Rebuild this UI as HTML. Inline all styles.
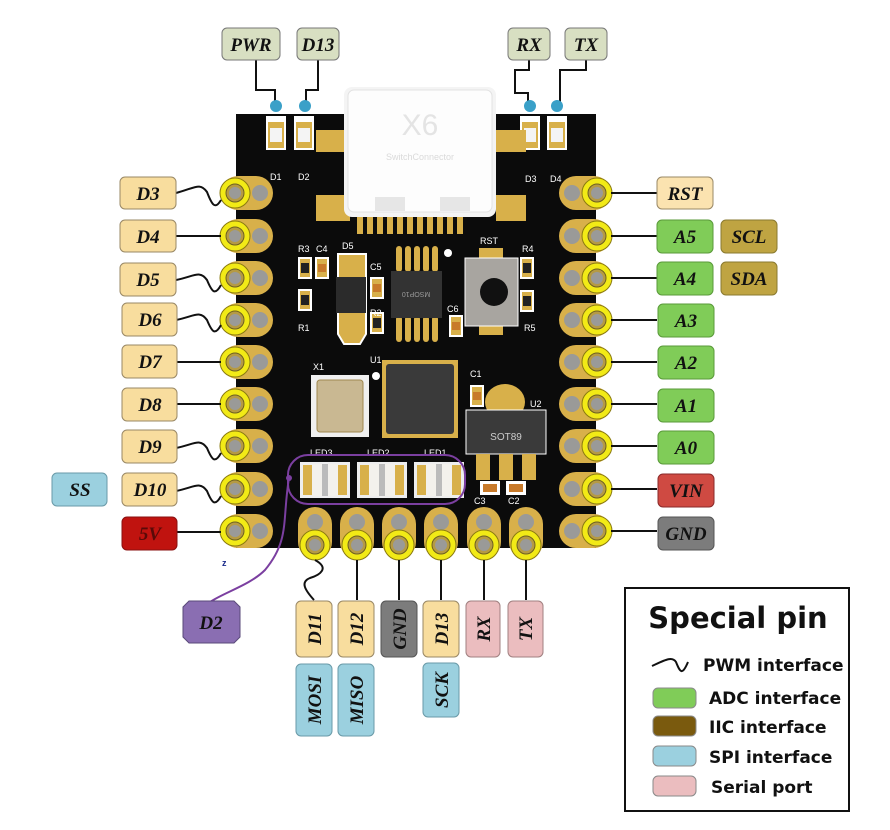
<!DOCTYPE html>
<html><head><meta charset="utf-8"><style>
html,body{margin:0;padding:0;background:#fff;}
svg{display:block}
.lb{font-family:"Liberation Serif",serif;font-weight:bold;font-style:italic;font-size:19px;fill:#111;}
.lg{font-family:"DejaVu Sans","Liberation Sans",sans-serif;font-weight:bold;fill:#111;}
.sk{font-family:"Liberation Sans",sans-serif;font-size:9px;fill:#fff;}
</style></head><body>
<svg width="890" height="830" viewBox="0 0 890 830" xmlns="http://www.w3.org/2000/svg">
<defs>
<g id="lp">
 <rect x="-14" y="-17" width="52" height="34" rx="17" fill="#d8b04a"/>
 <circle cx="25" cy="0" r="8" fill="#9a9a98"/>
 <circle cx="0" cy="0" r="15" fill="#f2ea16" stroke="#8a7a10" stroke-width="1"/>
 <circle cx="0" cy="0" r="9" fill="#b59a44" stroke="#6d6020" stroke-width="1"/>
 <circle cx="0" cy="0" r="6" fill="#9a9a98"/>
</g>
<g id="rp">
 <rect x="-38" y="-17" width="52" height="34" rx="17" fill="#d8b04a"/>
 <circle cx="-25" cy="0" r="8" fill="#9a9a98"/>
 <circle cx="0" cy="0" r="15" fill="#f2ea16" stroke="#8a7a10" stroke-width="1"/>
 <circle cx="0" cy="0" r="9" fill="#b59a44" stroke="#6d6020" stroke-width="1"/>
 <circle cx="0" cy="0" r="6" fill="#9a9a98"/>
</g>
<g id="bp">
 <rect x="-17" y="-38" width="34" height="52" rx="17" fill="#d8b04a"/>
 <circle cx="0" cy="-23" r="8" fill="#9a9a98"/>
 <circle cx="0" cy="0" r="15" fill="#f2ea16" stroke="#8a7a10" stroke-width="1"/>
 <circle cx="0" cy="0" r="9" fill="#b59a44" stroke="#6d6020" stroke-width="1"/>
 <circle cx="0" cy="0" r="6" fill="#9a9a98"/>
</g>
<g id="res">
 <rect x="-7" y="-11" width="14" height="22" fill="#fff"/>
 <rect x="-5" y="-9" width="10" height="18" fill="#d8b04a"/>
 <rect x="-4" y="-5" width="8" height="10" fill="#222"/>
</g>
<g id="cap">
 <rect x="-7" y="-11" width="14" height="22" fill="#fff"/>
 <rect x="-5" y="-9" width="10" height="18" fill="#d8b04a"/>
 <rect x="-4" y="-4" width="8" height="8" fill="#c87a2a"/>
</g>
<g id="led">
 <rect x="0" y="0" width="50" height="36" fill="#eee"/>
 <rect x="3" y="3" width="44" height="30" fill="#d8b04a"/>
 <rect x="12" y="2" width="26" height="32" fill="#f3f1ec"/>
 <rect x="22" y="2" width="6" height="32" fill="#bbb"/>
</g>
<g id="sled">
 <rect x="-10" y="0" width="20" height="34" fill="#fff"/>
 <rect x="-8" y="6" width="16" height="26" fill="#d8b04a"/>
 <rect x="-6" y="12" width="12" height="14" fill="#f4f4f4"/>
</g>
</defs>

<!-- board -->
<rect x="236" y="114" width="360" height="434" fill="#0b0b0b"/>

<!-- top LEDs -->
<use href="#sled" x="276" y="116"/><use href="#sled" x="304" y="116"/>
<use href="#sled" x="530" y="116"/><use href="#sled" x="557" y="116"/>
<text class="sk" x="270" y="180">D1</text><text class="sk" x="298" y="180">D2</text>
<text class="sk" x="525" y="182">D3</text><text class="sk" x="550" y="182">D4</text>

<!-- usb gold tabs -->
<rect x="316" y="130" width="34" height="22" fill="#d8b04a"/><rect x="496" y="130" width="30" height="22" fill="#d8b04a"/>
<rect x="316" y="195" width="34" height="26" fill="#d8b04a"/><rect x="496" y="195" width="30" height="26" fill="#d8b04a"/>
<g fill="#d8b04a">
<rect x="357" y="212" width="6" height="22"/><rect x="367" y="212" width="6" height="22"/><rect x="377" y="212" width="6" height="22"/><rect x="387" y="212" width="6" height="22"/><rect x="397" y="212" width="6" height="22"/><rect x="407" y="212" width="6" height="22"/><rect x="417" y="212" width="6" height="22"/><rect x="427" y="212" width="6" height="22"/><rect x="437" y="212" width="6" height="22"/><rect x="447" y="212" width="6" height="22"/><rect x="457" y="212" width="6" height="22"/>
</g>
<!-- usb connector -->
<rect x="344" y="87" width="152" height="130" rx="8" fill="#f4f4f4"/>
<rect x="348" y="90" width="144" height="122" rx="6" fill="#fdfdfd" stroke="#e2e2e2"/>
<text x="420" y="135" text-anchor="middle" font-family="Liberation Sans" font-size="30" fill="#e4e4e4">X6</text>
<text x="420" y="160" text-anchor="middle" font-family="Liberation Sans" font-size="9" fill="#dadada">SwitchConnector</text>
<rect x="375" y="197" width="30" height="14" fill="#e6e6e6"/><rect x="440" y="197" width="30" height="14" fill="#e6e6e6"/>

<!-- components -->
<use href="#res" x="305" y="268"/><use href="#cap" x="322" y="268"/><use href="#res" x="305" y="300"/>
<text class="sk" x="298" y="252">R3</text><text class="sk" x="316" y="252">C4</text><text class="sk" x="298" y="331">R1</text>
<path d="M338 254 h28 v80 l-6 10 h-16 l-6 -10 z" fill="#d8b04a" stroke="#fff" stroke-width="2"/>
<rect x="336" y="277" width="30" height="36" fill="#2b2b2b"/>
<text class="sk" x="342" y="249">D5</text>
<use href="#cap" x="377" y="288"/><text class="sk" x="370" y="270">C5</text>
<use href="#res" x="377" y="323"/><text class="sk" x="370" y="316">R2</text>
<g fill="#d8b04a">
<rect x="396" y="246" width="6" height="26" rx="3"/><rect x="405" y="246" width="6" height="26" rx="3"/><rect x="414" y="246" width="6" height="26" rx="3"/><rect x="423" y="246" width="6" height="26" rx="3"/><rect x="432" y="246" width="6" height="26" rx="3"/>
<rect x="396" y="316" width="6" height="26" rx="3"/><rect x="405" y="316" width="6" height="26" rx="3"/><rect x="414" y="316" width="6" height="26" rx="3"/><rect x="423" y="316" width="6" height="26" rx="3"/><rect x="432" y="316" width="6" height="26" rx="3"/>
</g>
<rect x="391" y="271" width="51" height="47" fill="#333"/>
<text x="416" y="298" text-anchor="middle" font-family="Liberation Sans" font-size="7" fill="#999" transform="rotate(180 416 295)">MSOP10</text>
<circle cx="448" cy="253" r="4" fill="#fff"/>
<rect x="479" y="248" width="24" height="12" fill="#d8b04a"/><rect x="479" y="323" width="24" height="12" fill="#d8b04a"/>
<rect x="465" y="258" width="53" height="68" fill="#a8a5a0" stroke="#fff"/>
<circle cx="494" cy="292" r="14" fill="#111"/>
<text class="sk" x="480" y="244">RST</text>
<use href="#res" x="527" y="268"/><use href="#res" x="527" y="301"/>
<text class="sk" x="522" y="252">R4</text><text class="sk" x="524" y="331">R5</text>
<use href="#cap" x="456" y="326"/><text class="sk" x="447" y="312">C6</text>
<!-- crystal -->
<rect x="311" y="375" width="58" height="62" fill="#f0f0f0"/>
<rect x="317" y="380" width="46" height="52" rx="3" fill="#c9b892" stroke="#a08850"/>
<text class="sk" x="313" y="370">X1</text>
<circle cx="376" cy="376" r="4" fill="#fff"/><text class="sk" x="370" y="363">U1</text>
<!-- QFN -->
<rect x="382" y="360" width="76" height="78" fill="#d8b04a"/>
<rect x="386" y="364" width="68" height="70" rx="3" fill="#3a3a3a"/>
<use href="#cap" x="477" y="396"/><text class="sk" x="470" y="377">C1</text>
<!-- SOT89 -->
<ellipse cx="505" cy="402" rx="20" ry="18" fill="#d8b04a"/>
<rect x="466" y="410" width="80" height="44" fill="#3a3a3a" stroke="#fff"/>
<text x="506" y="440" text-anchor="middle" font-family="Liberation Sans" font-size="10" fill="#ccc">SOT89</text>
<text class="sk" x="530" y="407">U2</text>
<rect x="476" y="454" width="14" height="26" fill="#d8b04a"/><rect x="499" y="454" width="14" height="26" fill="#d8b04a"/><rect x="522" y="454" width="14" height="26" fill="#d8b04a"/>
<rect x="480" y="481" width="20" height="14" fill="#fff"/><rect x="483" y="484" width="14" height="8" fill="#c87a2a"/>
<rect x="506" y="481" width="20" height="14" fill="#fff"/><rect x="509" y="484" width="14" height="8" fill="#c87a2a"/>
<text class="sk" x="474" y="504">C3</text><text class="sk" x="508" y="504">C2</text>
<!-- LEDs -->
<use href="#led" x="300" y="462"/><use href="#led" x="357" y="462"/><use href="#led" x="414" y="462"/>
<text class="sk" x="310" y="456">LED3</text><text class="sk" x="367" y="456">LED2</text><text class="sk" x="424" y="456">LED1</text>
<rect x="288" y="455" width="177" height="49" rx="20" fill="none" stroke="#7b3fa0" stroke-width="2"/>
<circle cx="289" cy="478" r="3" fill="#7b3fa0"/>
<path d="M289 478 C 282 520 290 540 265 570 C 250 585 225 592 210 602" fill="none" stroke="#7b3fa0" stroke-width="2"/>

<!-- pins -->
<use href="#lp" x="235" y="193"/><use href="#lp" x="235" y="236"/><use href="#lp" x="235" y="278"/><use href="#lp" x="235" y="320"/><use href="#lp" x="235" y="362"/><use href="#lp" x="235" y="404"/><use href="#lp" x="235" y="446"/><use href="#lp" x="235" y="489"/><use href="#lp" x="235" y="531"/>
<use href="#rp" x="597" y="193"/><use href="#rp" x="597" y="236"/><use href="#rp" x="597" y="278"/><use href="#rp" x="597" y="320"/><use href="#rp" x="597" y="362"/><use href="#rp" x="597" y="404"/><use href="#rp" x="597" y="446"/><use href="#rp" x="597" y="489"/><use href="#rp" x="597" y="531"/>
<use href="#bp" x="315" y="545"/><use href="#bp" x="357" y="545"/><use href="#bp" x="399" y="545"/><use href="#bp" x="441" y="545"/><use href="#bp" x="484" y="545"/><use href="#bp" x="526" y="545"/>
<text x="222" y="566" font-family="Liberation Sans" font-size="9" fill="#1a2a8a" font-weight="bold">z</text>

<!-- connectors -->
<g stroke="#111" stroke-width="2" fill="none">
<path d="M176 193 C 195 188 200 182 207 192 C 212 205 215 210 221 200"/>
<path d="M176 236 H221"/>
<path d="M176 280 C 195 276 200 270 207 280 C 212 292 215 296 221 285"/>
<path d="M176 320 C 195 316 200 310 207 320 C 212 332 215 336 221 325"/>
<path d="M176 362 H221"/><path d="M176 404 H221"/>
<path d="M176 448 C 195 444 200 438 207 448 C 212 460 215 464 221 453"/>
<path d="M176 491 C 195 487 200 481 207 491 C 212 503 215 507 221 496"/>
<path d="M176 532 H221"/>
<path d="M611 193 H657"/><path d="M611 236 H657"/><path d="M611 278 H657"/><path d="M611 320 H657"/><path d="M611 362 H657"/><path d="M611 404 H657"/><path d="M611 446 H657"/><path d="M611 489 H657"/><path d="M611 531 H657"/>
<path d="M315 560 C 330 568 320 575 310 578 C 300 582 305 590 314 600"/>
<path d="M357 560 V600"/><path d="M399 560 V600"/><path d="M441 560 V600"/><path d="M484 560 V600"/><path d="M526 560 V600"/>
<path d="M256 60 V90 H275 V102"/><path d="M318 60 V90 H306 V102"/>
<path d="M529 60 V70 H515 V93 H528 V102"/><path d="M586 60 V70 H560 V102"/>
</g>
<g fill="#3aa0c8"><circle cx="276" cy="106" r="6"/><circle cx="305" cy="106" r="6"/><circle cx="530" cy="106" r="6"/><circle cx="557" cy="106" r="6"/></g>

<!-- top labels -->
<g stroke="#777" stroke-width="1">
<rect x="222" y="28" width="58" height="32" rx="5" fill="#d8dfc2"/><rect x="297" y="28" width="42" height="32" rx="5" fill="#d8dfc2"/>
<rect x="508" y="28" width="42" height="32" rx="5" fill="#d8dfc2"/><rect x="565" y="28" width="42" height="32" rx="5" fill="#d8dfc2"/>
</g>
<text class="lb" x="251" y="51" text-anchor="middle">PWR</text><text class="lb" x="318" y="51" text-anchor="middle">D13</text>
<text class="lb" x="529" y="51" text-anchor="middle">RX</text><text class="lb" x="586" y="51" text-anchor="middle">TX</text>

<!-- left labels -->
<g stroke="#998866" stroke-width="1" fill="#f8dd9e">
<rect x="120" y="177" width="56" height="32" rx="5"/><rect x="120" y="220" width="56" height="32" rx="5"/><rect x="120" y="263" width="56" height="33" rx="5"/><rect x="122" y="303" width="55" height="33" rx="5"/><rect x="122" y="345" width="55" height="33" rx="5"/><rect x="122" y="388" width="55" height="33" rx="5"/><rect x="122" y="430" width="55" height="33" rx="5"/><rect x="122" y="473" width="55" height="33" rx="5"/>
</g>
<rect x="122" y="517" width="55" height="33" rx="5" fill="#c0130f" stroke="#8a1010"/>
<rect x="52" y="473" width="55" height="33" rx="5" fill="#9bd0df" stroke="#6a9aa8"/>
<text class="lb" x="148" y="200" text-anchor="middle">D3</text><text class="lb" x="148" y="243" text-anchor="middle">D4</text><text class="lb" x="148" y="286" text-anchor="middle">D5</text><text class="lb" x="150" y="326" text-anchor="middle">D6</text><text class="lb" x="150" y="368" text-anchor="middle">D7</text><text class="lb" x="150" y="411" text-anchor="middle">D8</text><text class="lb" x="150" y="453" text-anchor="middle">D9</text><text class="lb" x="150" y="496" text-anchor="middle">D10</text>
<text class="lb" x="150" y="540" text-anchor="middle" fill="#6a0a08" style="fill:#5a0a08">5V</text>
<text class="lb" x="80" y="496" text-anchor="middle">SS</text>

<!-- right labels -->
<rect x="657" y="177" width="56" height="32" rx="5" fill="#fbe3b0" stroke="#998866"/>
<g fill="#80cc58" stroke="#5a9a3a">
<rect x="657" y="220" width="56" height="33" rx="5"/><rect x="657" y="262" width="56" height="33" rx="5"/><rect x="658" y="304" width="56" height="33" rx="5"/><rect x="658" y="346" width="56" height="33" rx="5"/><rect x="658" y="389" width="56" height="33" rx="5"/><rect x="658" y="431" width="56" height="33" rx="5"/>
</g>
<rect x="658" y="474" width="56" height="33" rx="5" fill="#cf4a42" stroke="#8a2a2a"/>
<rect x="658" y="517" width="56" height="33" rx="5" fill="#7c7c7c" stroke="#555"/>
<rect x="721" y="220" width="56" height="33" rx="5" fill="#bfa442" stroke="#8a7a30"/>
<rect x="721" y="262" width="56" height="33" rx="5" fill="#bfa442" stroke="#8a7a30"/>
<text class="lb" x="685" y="200" text-anchor="middle">RST</text><text class="lb" x="685" y="243" text-anchor="middle">A5</text><text class="lb" x="685" y="285" text-anchor="middle">A4</text><text class="lb" x="686" y="327" text-anchor="middle">A3</text><text class="lb" x="686" y="369" text-anchor="middle">A2</text><text class="lb" x="686" y="412" text-anchor="middle">A1</text><text class="lb" x="686" y="454" text-anchor="middle">A0</text><text class="lb" x="686" y="497" text-anchor="middle">VIN</text><text class="lb" x="686" y="540" text-anchor="middle">GND</text>
<text class="lb" x="749" y="243" text-anchor="middle">SCL</text><text class="lb" x="749" y="285" text-anchor="middle">SDA</text>

<!-- bottom labels -->
<rect x="296" y="601" width="36" height="56" rx="5" fill="#f8dd9e" stroke="#998866"/>
<rect x="338" y="601" width="36" height="56" rx="5" fill="#f8dd9e" stroke="#998866"/>
<rect x="381" y="601" width="36" height="56" rx="5" fill="#7c7c7c" stroke="#555"/>
<rect x="423" y="601" width="36" height="56" rx="5" fill="#f8dd9e" stroke="#998866"/>
<rect x="466" y="601" width="34" height="56" rx="5" fill="#ebbdbf" stroke="#a08080"/>
<rect x="508" y="601" width="35" height="56" rx="5" fill="#ebbdbf" stroke="#a08080"/>
<rect x="296" y="664" width="36" height="72" rx="5" fill="#9bd0df" stroke="#6a9aa8"/>
<rect x="338" y="664" width="36" height="72" rx="5" fill="#9bd0df" stroke="#6a9aa8"/>
<rect x="423" y="663" width="36" height="54" rx="5" fill="#9bd0df" stroke="#6a9aa8"/>
<g class="lb">
<text transform="translate(321 629) rotate(-90)" text-anchor="middle">D11</text>
<text transform="translate(363 629) rotate(-90)" text-anchor="middle">D12</text>
<text transform="translate(406 629) rotate(-90)" text-anchor="middle">GND</text>
<text transform="translate(448 629) rotate(-90)" text-anchor="middle">D13</text>
<text transform="translate(490 629) rotate(-90)" text-anchor="middle">RX</text>
<text transform="translate(532 629) rotate(-90)" text-anchor="middle">TX</text>
<text transform="translate(321 700) rotate(-90)" text-anchor="middle">MOSI</text>
<text transform="translate(363 700) rotate(-90)" text-anchor="middle">MISO</text>
<text transform="translate(448 690) rotate(-90)" text-anchor="middle">SCK</text>
</g>

<!-- D2 -->
<path d="M189 601 H234 L240 607 V637 L234 643 H189 L183 637 V607 Z" fill="#8a6eb2" stroke="#5a4a7a"/>
<text class="lb" x="211" y="629" text-anchor="middle">D2</text>

<!-- legend -->
<rect x="625" y="588" width="224" height="223" fill="#fff" stroke="#111" stroke-width="2"/>
<text class="lg" x="738" y="628" text-anchor="middle" font-size="29">Special pin</text>
<path d="M652 666 C 665 660 672 656 676 662 C 680 672 682 676 688 662" fill="none" stroke="#111" stroke-width="2"/>
<text class="lg" x="703" y="671" font-size="17">PWM interface</text>
<rect x="653" y="688" width="43" height="20" rx="5" fill="#80cc58" stroke="#8a8a8a"/>
<rect x="653" y="716" width="43" height="20" rx="5" fill="#7a5a0e" stroke="#8a8a8a"/>
<rect x="653" y="746" width="43" height="20" rx="5" fill="#9bd0df" stroke="#8a8a8a"/>
<rect x="653" y="776" width="43" height="20" rx="5" fill="#ebbdbf" stroke="#8a8a8a"/>
<text class="lg" x="709" y="704" font-size="17">ADC interface</text>
<text class="lg" x="709" y="733" font-size="17">IIC interface</text>
<text class="lg" x="709" y="763" font-size="17">SPI interface</text>
<text class="lg" x="711" y="793" font-size="17">Serial port</text>
</svg>
</body></html>
